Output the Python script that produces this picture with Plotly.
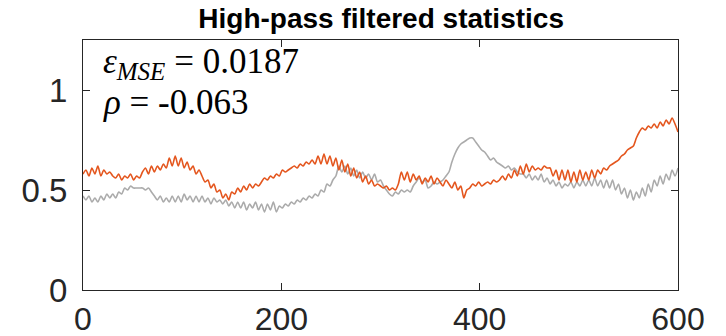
import plotly.graph_objects as go

step = 3
x_vals = list(range(0, 601, step))

# High-pass filtered statistic, series 1 (orange)
orange_vals = [
    0.58, 0.60, 0.57, 0.61, 0.58, 0.62, 0.57, 0.60, 0.58, 0.59,
    0.57, 0.56, 0.58, 0.55, 0.57, 0.56, 0.58, 0.55, 0.57, 0.56,
    0.59, 0.61, 0.58, 0.62, 0.59, 0.62, 0.60, 0.63, 0.61, 0.66,
    0.62, 0.67, 0.62, 0.66, 0.61, 0.64, 0.60, 0.62, 0.58, 0.60,
    0.57, 0.54, 0.55, 0.51, 0.53, 0.49, 0.50, 0.46, 0.48, 0.45,
    0.49, 0.48, 0.51, 0.49, 0.52, 0.50, 0.53, 0.51, 0.53, 0.52,
    0.54, 0.56, 0.55, 0.57, 0.56, 0.58, 0.57, 0.60, 0.59, 0.60,
    0.61, 0.62, 0.61, 0.63, 0.62, 0.64, 0.63, 0.65, 0.63, 0.67,
    0.63, 0.68, 0.63, 0.67, 0.62, 0.66, 0.60, 0.65, 0.59, 0.63,
    0.57, 0.61, 0.56, 0.59, 0.54, 0.57, 0.53, 0.55, 0.52, 0.53,
    0.52, 0.51, 0.52, 0.50, 0.51, 0.50, 0.53, 0.59, 0.55, 0.59,
    0.54, 0.58, 0.55, 0.57, 0.53, 0.56, 0.54, 0.57, 0.53, 0.56,
    0.54, 0.52, 0.55, 0.53, 0.51, 0.54, 0.50, 0.52, 0.46, 0.50,
    0.51, 0.53, 0.52, 0.54, 0.52, 0.53, 0.54, 0.53, 0.55, 0.54,
    0.55, 0.57, 0.55, 0.58, 0.56, 0.60, 0.57, 0.62, 0.58, 0.63,
    0.59, 0.62, 0.60, 0.61, 0.60, 0.62, 0.61, 0.61, 0.57, 0.60,
    0.55, 0.60, 0.55, 0.60, 0.54, 0.59, 0.54, 0.60, 0.55, 0.59,
    0.55, 0.60, 0.56, 0.60, 0.58, 0.61, 0.60, 0.62, 0.63, 0.64,
    0.65, 0.67, 0.68, 0.70, 0.71, 0.72, 0.76, 0.79, 0.81, 0.80,
    0.82, 0.81, 0.83, 0.81, 0.84, 0.82, 0.85, 0.83, 0.86, 0.83,
    0.79,
]

# High-pass filtered statistic, series 2 (gray)
gray_vals = [
    0.47, 0.45, 0.47, 0.44, 0.46, 0.44, 0.47, 0.45, 0.48, 0.46,
    0.48, 0.46, 0.49, 0.48, 0.51, 0.50, 0.52, 0.51, 0.51, 0.51,
    0.51, 0.50, 0.51, 0.49, 0.47, 0.45, 0.47, 0.44, 0.46, 0.44,
    0.47, 0.44, 0.47, 0.44, 0.48, 0.45, 0.47, 0.44, 0.47, 0.44,
    0.47, 0.44, 0.46, 0.43, 0.46, 0.44, 0.45, 0.43, 0.45, 0.42,
    0.44, 0.41, 0.44, 0.41, 0.44, 0.40, 0.43, 0.41, 0.44, 0.40,
    0.43, 0.39, 0.43, 0.40, 0.44, 0.39, 0.42, 0.41, 0.43, 0.42,
    0.44, 0.43, 0.45, 0.44, 0.46, 0.45, 0.47, 0.46, 0.48, 0.47,
    0.50, 0.49, 0.53, 0.52, 0.55, 0.57, 0.62, 0.59, 0.62, 0.58,
    0.61, 0.57, 0.60, 0.56, 0.59, 0.56, 0.58, 0.55, 0.58, 0.54,
    0.55, 0.52, 0.50, 0.48, 0.47, 0.49, 0.48, 0.50, 0.49, 0.50,
    0.49, 0.52, 0.54, 0.56, 0.54, 0.55, 0.51, 0.52, 0.54, 0.53,
    0.54, 0.55, 0.57, 0.59, 0.64, 0.68, 0.71, 0.73, 0.74, 0.75,
    0.76, 0.76, 0.74, 0.72, 0.70, 0.69, 0.67, 0.65, 0.66, 0.64,
    0.63, 0.62, 0.61, 0.62, 0.60, 0.61, 0.59, 0.58, 0.58, 0.56,
    0.58, 0.55, 0.57, 0.55, 0.58, 0.54, 0.56, 0.53, 0.55, 0.52,
    0.54, 0.51, 0.53, 0.52, 0.54, 0.51, 0.54, 0.52, 0.55, 0.52,
    0.55, 0.52, 0.56, 0.52, 0.55, 0.51, 0.55, 0.51, 0.55, 0.50,
    0.53, 0.48, 0.51, 0.46, 0.50, 0.45, 0.49, 0.46, 0.51, 0.47,
    0.53, 0.49, 0.55, 0.52, 0.57, 0.53, 0.58, 0.55, 0.60, 0.57,
    0.61,
]

x_ticks = [0, 200, 400, 600]
y_ticks = [0, 0.5, 1]
y_tick_labels = ["0", "0.5", "1"]
title_text = "<b>High-pass filtered statistics</b>"
mse_text = ("<i>ε</i><sub><span style='font-size:25px'><i>MSE</i></span></sub>"
            "\u00a0=\u00a00.0187")
rho_text = "<i>ρ</i> = -0.063"

axis_color = "#262626"

fig = go.Figure()
fig.add_trace(go.Scatter(x=x_vals, y=gray_vals, mode="lines",
                         line=dict(color="#ABABAB", width=1.6, shape="spline", smoothing=0.7),
                         showlegend=False))
fig.add_trace(go.Scatter(x=x_vals, y=orange_vals, mode="lines",
                         line=dict(color="#E4561E", width=1.6, shape="spline", smoothing=0.7),
                         showlegend=False))

fig.update_layout(
    width=726, height=336,
    margin=dict(l=83, r=48, t=40, b=46, autoexpand=False),
    paper_bgcolor="white", plot_bgcolor="white",
    title=dict(text=title_text, x=0.525, xanchor="center", y=0.947, yanchor="middle",
               font=dict(family="Liberation Sans Narrow, Arial Narrow, Liberation Sans, Arial",
                         size=28, color="black")),
    font=dict(family="Liberation Sans, Arial", color=axis_color),
)
fig.update_xaxes(range=[0, 600], tickvals=x_ticks, ticks="inside", ticklen=7,
                 tickcolor=axis_color, showline=True, linecolor=axis_color, linewidth=1.2,
                 mirror="allticks", showgrid=False, zeroline=False, automargin=False,
                 ticklabelstandoff=0,
                 tickfont=dict(size=32, color=axis_color,
                               family="Liberation Sans Narrow, Liberation Sans, Arial"))
fig.update_yaxes(range=[0, 1.25], tickvals=y_ticks, ticktext=y_tick_labels, ticks="inside",
                 ticklen=7, tickcolor=axis_color, showline=True, linecolor=axis_color,
                 linewidth=1.2, mirror="allticks", showgrid=False, zeroline=False,
                 automargin=False, ticklabelstandoff=8,
                 tickfont=dict(size=33, color=axis_color,
                               family="Liberation Sans Narrow, Liberation Sans, Arial"))

fig.add_annotation(text=mse_text, xref="paper", yref="paper", x=0.03, y=0.905,
                   xanchor="left", yanchor="middle", showarrow=False,
                   font=dict(family="Liberation Serif, Times New Roman, serif", size=35,
                             color="black"))
fig.add_annotation(text=rho_text, xref="paper", yref="paper", x=0.03, y=0.75,
                   xanchor="left", yanchor="middle", showarrow=False,
                   font=dict(family="Liberation Serif, Times New Roman, serif", size=35,
                             color="black"))

# remove the default page margin so the figure fills the window exactly
fig.write_html("out.html",
               config={"displayModeBar": False},
               post_script="document.body.style.margin='0';document.body.style.overflow='hidden';")
